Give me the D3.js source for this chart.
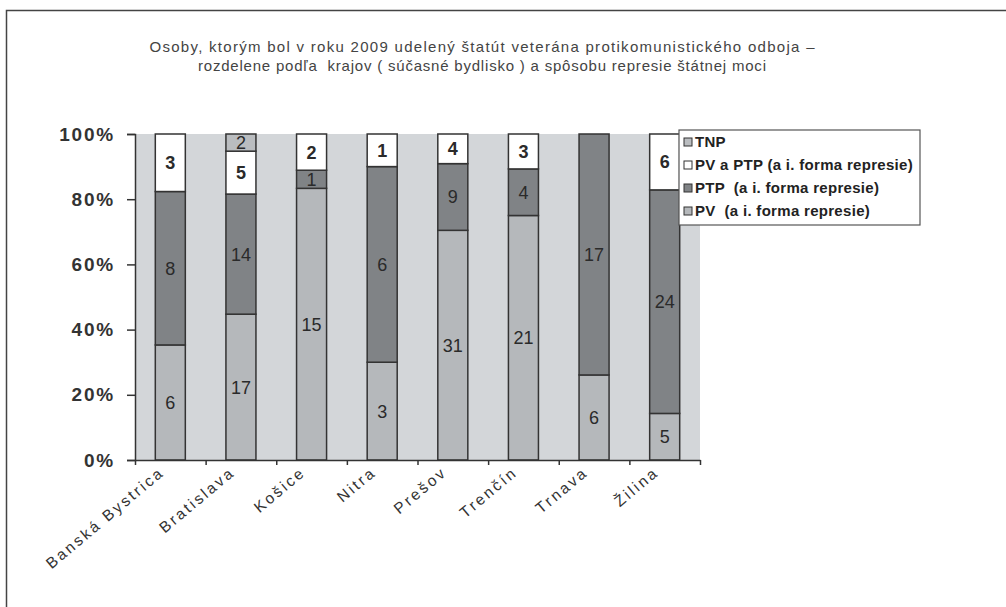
<!DOCTYPE html>
<html>
<head>
<meta charset="utf-8">
<script src="https://cdn.jsdelivr.net/npm/d3@7.9.0/dist/d3.min.js"></script>
<style>
  body { margin: 0; background: #fff; }
  svg { display: block; font-family: "Liberation Sans", Arial, sans-serif; }
</style>
</head>
<body>
<svg id="chart" width="1006" height="607"></svg>
<script>
// data (counts per region)
const regions = ['Banská Bystrica', 'Bratislava', 'Košice', 'Nitra', 'Prešov', 'Trenčín', 'Trnava', 'Žilina'];
const pv = [6, 17, 15, 3, 31, 21, 6, 5];
const ptp = [8, 14, 1, 6, 9, 4, 17, 24];
const pvPtp = [3, 5, 2, 1, 4, 3, 0, 6];
const tnp = [0, 2, 0, 0, 0, 0, 0, 0];
const seriesKeys = ['pv', 'ptp', 'pvPtp', 'tnp'];
const seriesNames = ['PV  (a i. forma represie)', 'PTP  (a i. forma represie)', 'PV a PTP (a i. forma represie)', 'TNP'];
const yTicks = [0, 0.2, 0.4, 0.6, 0.8, 1];
const titleLines = [
  'Osoby, ktorým bol v roku 2009 udelený štatút veterána protikomunistického odboja –',
  'rozdelene podľa  krajov ( súčasné bydlisko ) a spôsobu represie štátnej moci'
];
const titleWidths = [665, 568];

const colors = { pv: '#b5b8bb', ptp: '#808386', pvPtp: '#ffffff', tnp: '#babdc0' };

const svg = d3.select('#chart');
const plotL = 135, plotR = 700, plotT = 134, plotB = 460;

// frame (left + top only)
svg.append('path')
  .attr('d', 'M6.5,607 V10.5 H1006')
  .attr('fill', 'none').attr('stroke', '#444').attr('stroke-width', 1.5);

// title
svg.append('g').selectAll('text').data(titleLines).join('text')
  .attr('x', 482).attr('y', (d, i) => 52 + i * 19)
  .attr('text-anchor', 'middle')
  .attr('font-size', 15).attr('fill', '#444')
  .attr('textLength', (d, i) => titleWidths[i]).attr('lengthAdjust', 'spacing')
  .style('white-space', 'pre')
  .text(d => d);

const rows = regions.map((r, i) => ({ region: r, pv: pv[i], ptp: ptp[i], pvPtp: pvPtp[i], tnp: tnp[i] }));
const stacked = d3.stack().keys(seriesKeys).offset(d3.stackOffsetExpand)(rows);

const x = d3.scaleBand().domain(regions).range([plotL, plotR]).paddingInner(0.575).paddingOuter(0.2875);
const y = d3.scaleLinear().domain([0, 1]).range([plotB, plotT]);
const xb = d3.scaleLinear().domain([0, regions.length]).range([plotL, plotR]);

// plot background
svg.append('rect')
  .attr('x', plotL).attr('y', plotT).attr('width', plotR - plotL).attr('height', plotB - plotT)
  .attr('fill', '#d3d6d9');

// bars
const layers = svg.append('g').selectAll('g').data(stacked).join('g')
  .attr('fill', d => colors[d.key]);

layers.selectAll('rect').data(d => d.filter(s => s[1] - s[0] > 0)).join('rect')
  .attr('x', d => x(d.data.region))
  .attr('y', d => y(d[1]))
  .attr('width', x.bandwidth())
  .attr('height', d => y(d[0]) - y(d[1]))
  .attr('stroke', '#333').attr('stroke-width', 1.5);

// value labels
stacked.forEach(layer => {
  svg.append('g').selectAll('text').data(layer.filter(s => s.data[layer.key] > 0)).join('text')
    .attr('x', d => x(d.data.region) + x.bandwidth() / 2)
    .attr('y', d => (y(d[0]) + y(d[1])) / 2)
    .attr('dy', '0.36em')
    .attr('text-anchor', 'middle')
    .attr('font-size', 18)
    .attr('font-weight', layer.key === 'pvPtp' ? 'bold' : 'normal')
    .attr('fill', '#2a2a2a')
    .text(d => d.data[layer.key]);
});

// y axis
const yAxis = svg.append('g')
  .attr('transform', `translate(${plotL},0)`)
  .call(d3.axisLeft(y).tickValues(yTicks).tickFormat(d3.format('.0%')).tickSize(8).tickPadding(12));
yAxis.select('.domain').attr('stroke', '#333').attr('stroke-width', 1.5);
yAxis.selectAll('.tick line').attr('stroke', '#333').attr('stroke-width', 1.5);
yAxis.selectAll('.tick text')
  .attr('font-size', 19).attr('font-weight', 'bold').attr('fill', '#333')
  .attr('letter-spacing', '1.8px')
  .attr('font-family', '"Liberation Sans", Arial, sans-serif');

// x axis (ticks at band edges)
const xAxis = svg.append('g')
  .attr('transform', `translate(0,${plotB})`)
  .call(d3.axisBottom(xb).tickValues(d3.range(regions.length + 1)).tickFormat('').tickSize(5).tickSizeOuter(0));
xAxis.select('.domain').attr('stroke', '#333').attr('stroke-width', 1.5);
xAxis.selectAll('.tick line').attr('stroke', '#333').attr('stroke-width', 1.5);

// rotated category labels
svg.append('g').selectAll('text').data(regions).join('text')
  .attr('transform', d => `translate(${x(d) + x.bandwidth() / 2 - 5},${plotB + 14}) rotate(-40)`)
  .attr('text-anchor', 'end')
  .attr('font-size', 15.5).attr('letter-spacing', '2.5px').attr('fill', '#333')
  .text(d => d);

// legend
const legend = svg.append('g').attr('transform', 'translate(679,130)');
legend.append('rect')
  .attr('width', 241).attr('height', 95)
  .attr('fill', '#fff').attr('stroke', '#555').attr('stroke-width', 1.2);
const legendItems = legend.selectAll('g.item').data(seriesKeys.slice().reverse()).join('g')
  .attr('class', 'item')
  .attr('transform', (d, i) => `translate(5,${12 + i * 23})`);
legendItems.append('rect')
  .attr('x', 0).attr('y', -4).attr('width', 8).attr('height', 8)
  .attr('fill', d => colors[d]).attr('stroke', '#333').attr('stroke-width', 1);
legendItems.append('text')
  .attr('x', 11).attr('dy', '0.36em')
  .attr('font-size', 15).attr('font-weight', 'bold').attr('fill', '#222')
  .attr('letter-spacing', '0.3px')
  .style('white-space', 'pre')
  .text(d => seriesNames[seriesKeys.indexOf(d)]);
</script>
</body>
</html>
